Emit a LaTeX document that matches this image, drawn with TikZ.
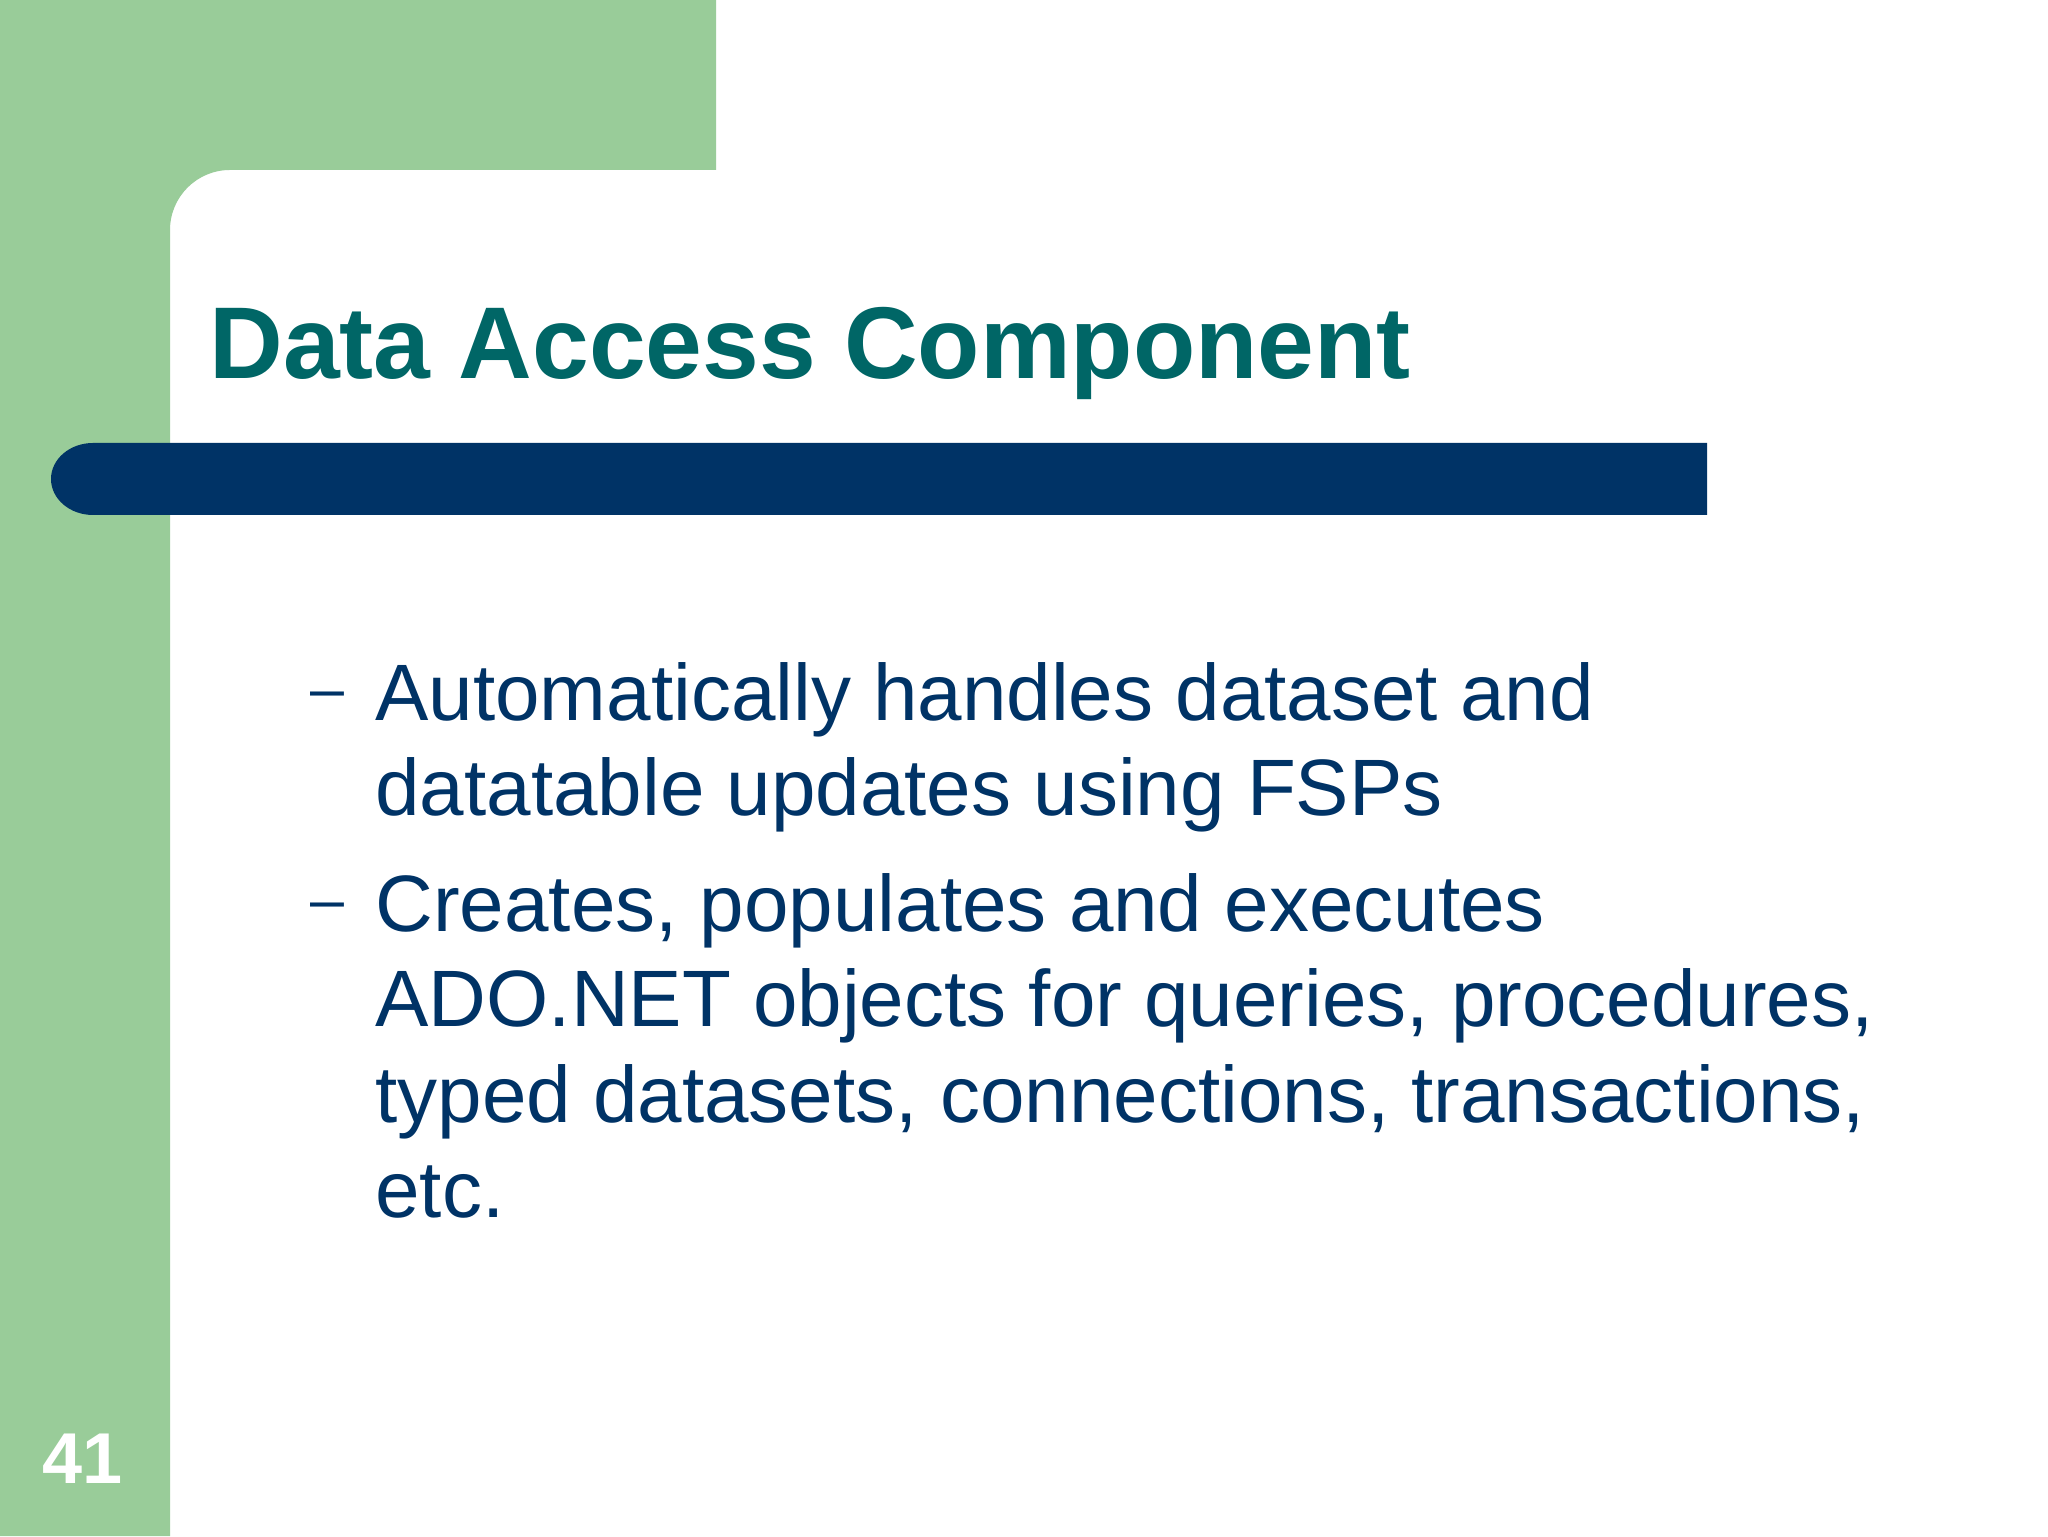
\documentclass[tikz,border=0pt]{standalone}
\usepackage{fontspec}
\setmainfont{Liberation Sans}
\definecolor{slidegreen}{HTML}{99CC99}
\definecolor{slidenavy}{HTML}{003366}
\definecolor{slideteal}{HTML}{006666}
\begin{document}
\begin{tikzpicture}[x=0.5pt,y=0.5pt,
  titletext/.style={inner sep=0pt,anchor=base west,text=slideteal,font=\fontsize{51}{61}\selectfont\bfseries},
  bodytext/.style={inner sep=0pt,anchor=base west,text=slidenavy,font=\fontsize{40}{48}\selectfont},
  dashtext/.style={inner sep=0pt,anchor=base west,text=slidenavy,font=\fontsize{30.5}{36}\selectfont},
  numtext/.style={inner sep=0pt,anchor=base west,text=white,font=\fontsize{36}{43}\selectfont\bfseries}]
\useasboundingbox (0,0) rectangle (2048,1536);
\fill[white] (0,0) rectangle (2048,1536);
% green frame
\fill[slidegreen] (0,1536) -- (716,1536) -- (716,1366) -- (230,1366)
  arc[start angle=90,end angle=180,radius=60] -- (170,0) -- (0,0) -- cycle;
% navy bar
\fill[slidenavy] (1707,1093) -- (93,1093)
  arc[start angle=90,end angle=270,x radius=42,y radius=36] -- (1707,1021) -- cycle;
% title
\node[titletext] (title) at (209,1157) {Data Access Component};
% bullets
\node[dashtext] (d1) at (310,826) {–};
\node[bodytext] (l1) at (375,815) {Automatically handles dataset and};
\node[bodytext] (l2) at (375,720) {datatable updates using FSPs};
\node[dashtext] (d2) at (310,615) {–};
\node[bodytext] (l3) at (375,604) {Creates, populates and executes};
\node[bodytext] (l4) at (375,509) {ADO.NET objects for queries, procedures,};
\node[bodytext] (l5) at (375,413) {typed datasets, connections, transactions,};
\node[bodytext] (l6) at (375,318) {etc.};
% page number
\node[numtext] (num) at (42,53) {41};
\end{tikzpicture}
\end{document}
